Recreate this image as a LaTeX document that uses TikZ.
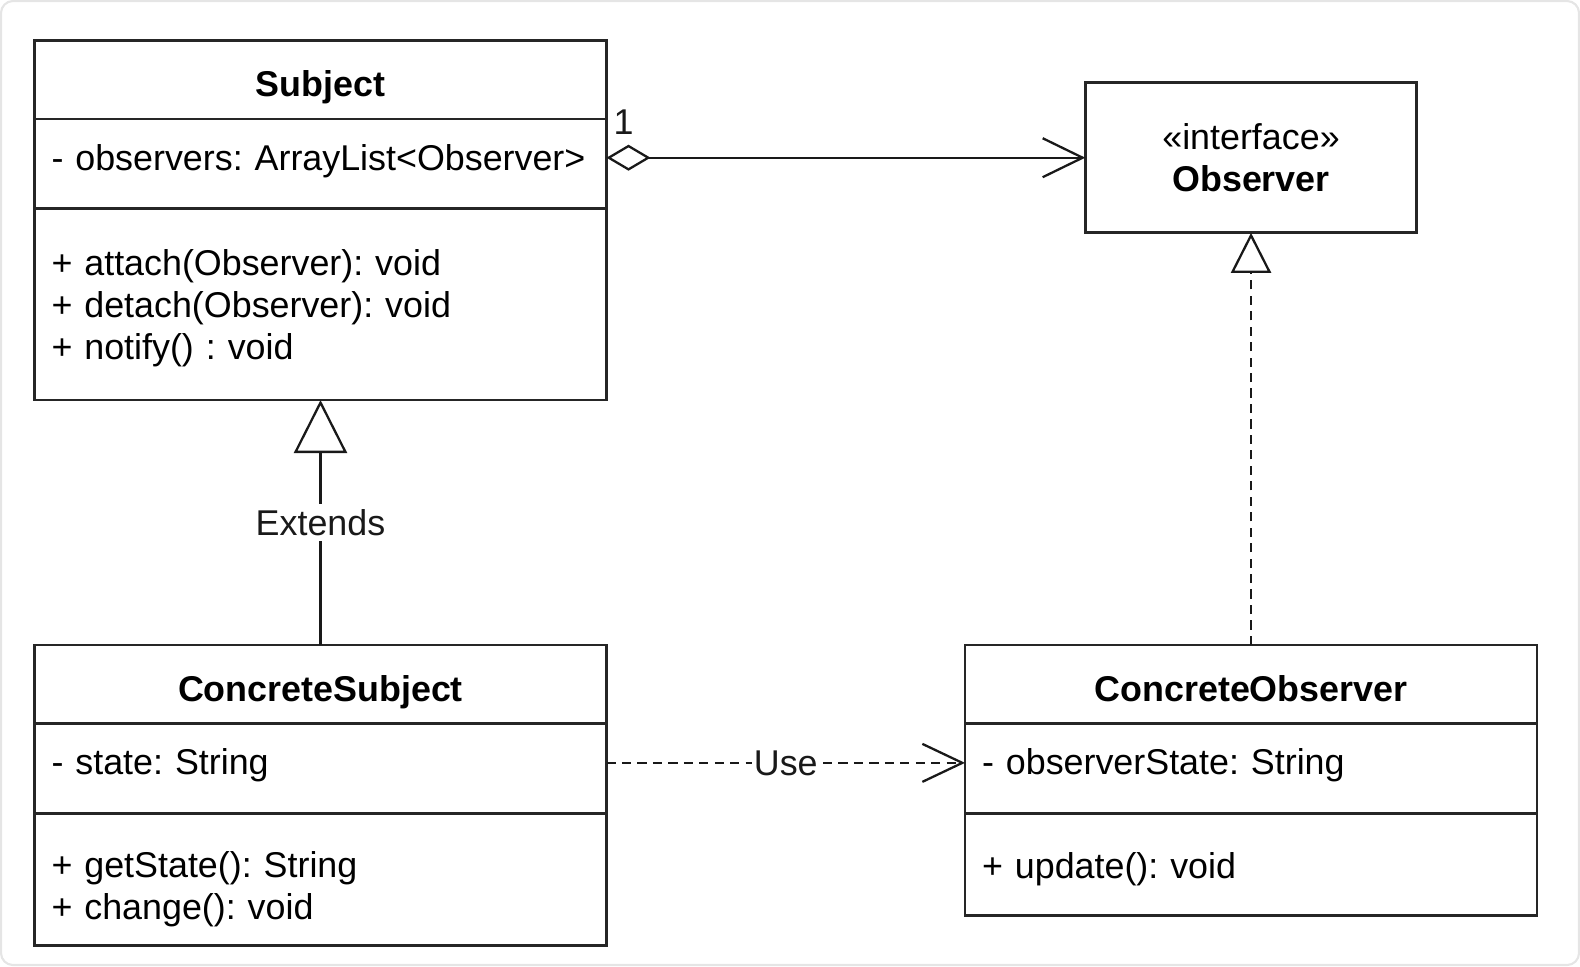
\documentclass[tikz,border=0pt]{standalone}
\usepackage{fontspec}
\setmainfont{Liberation Sans}
\usetikzlibrary{arrows.meta}
\newcommand{\umlfont}{\fontsize{10.2}{11.86}\selectfont\frenchspacing}

\begin{document}
\begin{tikzpicture}[
    font=\umlfont,
    box/.style={draw=black!85, line width=0.8pt, inner sep=0pt, outer sep=0pt, minimum width=5.72cm},
    head/.style={box, minimum height=0.786cm, text height=9.5pt, text depth=0pt, font=\umlfont\bfseries},
    attr/.style={box, minimum height=0.897cm, inner xsep=0.17cm, text width=5.38cm, align=left, text height=6.2pt, text depth=2.5pt},
    ops/.style={box, inner xsep=0.17cm, text width=5.38cm, align=left},
    lbl/.style={fill=white, inner sep=1.5pt},
    link/.style={line width=0.65pt, black!90},
    dashlink/.style={link, dash pattern=on 2.6pt off 1.8pt}
  ]
    \useasboundingbox (0,0) rectangle (15.80,-9.66);
    \draw[gray!20, line width=0.6pt, rounded corners=0.12cm] (0.01,-0.01) rectangle (15.79,-9.65);

    % Subject
    \node[head] (subj) at (3.205,-0.796) {Subject};
    \node[attr, anchor=north] (subj-a) at (subj.south) {- observers: ArrayList<Observer>};
    \node[ops, anchor=north, minimum height=1.914cm] (subj-o) at (subj-a.south)
        {\rule{0pt}{9.6pt}+ attach(Observer): void\\+ detach(Observer): void\\+ notify() : void};

    % Observer (interface)
    \node[draw=black!85, line width=0.8pt, outer sep=0pt, minimum width=3.315cm, minimum height=1.502cm, align=center] (obs) at (12.51,-1.577)
        {«interface»\\\textbf{Observer}};

    % ConcreteSubject
    \node[head] (csubj) at (3.205,-6.843) {ConcreteSubject};
    \node[attr, anchor=north] (csubj-a) at (csubj.south) {- state: String};
    \node[ops, anchor=north, minimum height=1.32cm] (csubj-o) at (csubj-a.south)
        {\rule{0pt}{13pt}+ getState(): String\\+ change(): void};

    % ConcreteObserver
    \node[head] (cobs) at (12.51,-6.843) {ConcreteObserver};
    \node[attr, anchor=north] (cobs-a) at (cobs.south) {- observerState: String};
    \node[ops, anchor=north, minimum height=1.018cm] (cobs-o) at (cobs-a.south) {\rule{0pt}{10.2pt}+ update(): void};

    % Relations
    \draw[link, {Diamond[open, length=0.44cm, width=0.26cm]}-{Straight Barb[length=0.4cm, width=0.39cm]}]
        (subj-a.east |- obs.west) -- node[pos=0, anchor=south west, inner sep=0pt, xshift=0.06cm, yshift=0.22cm] (mult) {1} (obs.west);
    \draw[link, -{Triangle[open, length=0.53cm, width=0.53cm]}]
        (csubj.north) -- node[lbl] (ext) {Extends} (subj-o.south);
    \draw[dashlink, -{Triangle[open, length=0.4cm, width=0.4cm]}]
        (cobs.north) -- (obs.south);
    \draw[dashlink, -{Straight Barb[length=0.4cm, width=0.38cm]}]
        ([yshift=0.056cm]csubj-a.east) -- node[lbl, inner sep=0.5pt] (use) {Use} ([yshift=0.056cm]cobs-a.west);
\end{tikzpicture}
\end{document}
